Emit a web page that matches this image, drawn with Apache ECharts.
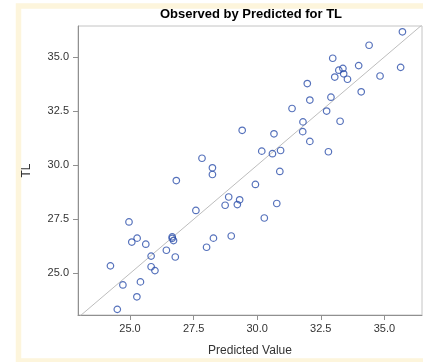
<!DOCTYPE html>
<html>
<head>
<meta charset="utf-8">
<script src="https://cdn.jsdelivr.net/npm/echarts@6/dist/echarts.min.js"></script>
<style>
html,body{margin:0;padding:0;background:#fff;}
#c{width:423px;height:362px;}
</style>
</head>
<body>
<div id="c"></div>
<script>
const titleText = 'Observed by Predicted for TL';
const xName = 'Predicted Value';
const yName = 'TL';
const xTicks = [25.0, 27.5, 30.0, 32.5, 35.0];
const yTicks = [25.0, 27.5, 30.0, 32.5, 35.0];
const predicted = [35.71,34.40,32.97,33.99,35.64,33.21,33.37,33.40,33.05,33.55,34.83,31.97,34.09,32.07,32.90,31.37,32.73,31.80,33.26,31.79,32.07,32.80,29.41,30.66,30.18,30.60,30.92,27.83,28.24,28.24,26.82,30.89,29.93,28.88,29.31,28.74,29.22,30.77,27.59,30.28,24.96,25.28,25.07,25.62,26.66,26.66,26.71,28.28,28.98,28.01,26.43,25.83,26.78,24.23,25.83,25.98,25.41,24.72,25.27,24.50];
const observed = [36.16,35.54,34.94,34.60,34.52,34.39,34.47,34.22,34.07,33.97,34.12,33.77,33.39,33.01,33.14,32.62,32.50,32.00,32.03,31.55,31.10,30.62,31.61,31.45,30.65,30.53,30.68,30.32,29.88,29.57,29.29,29.71,29.11,28.53,28.40,28.15,28.18,28.23,27.91,27.56,27.38,26.63,26.45,26.35,26.69,26.62,26.52,26.63,26.73,26.21,26.07,25.80,25.76,25.35,25.31,25.13,24.61,24.47,23.92,23.34];
const xRange = [22.955, 36.48];
const yRange = [23.08, 36.43];
const refLine = [[22.0, 22.0], [37.0, 37.0]];

const chart = echarts.init(document.getElementById('c'), null, {renderer: 'canvas'});
const points = predicted.map((p, i) => [p, observed[i]]);
const font = 'Arial, "Liberation Sans", sans-serif';
chart.setOption({
  animation: false,
  backgroundColor: '#fff',
  graphic: [{
    type: 'rect',
    z: -10,
    shape: {x: 18.5, y: 6, width: 430, height: 355},
    style: {fill: 'none', stroke: '#fdf5dc', lineWidth: 5.5}
  }],
  title: {
    text: titleText,
    left: 160, top: 8, padding: 0,
    textStyle: {fontFamily: font, fontSize: 13, fontWeight: 'bold', color: '#000'}
  },
  grid: {left: 78, top: 26, right: 1, bottom: 39.3, show: true, borderColor: '#c4c4c4', borderWidth: 1, backgroundColor: 'transparent'},
  xAxis: {
    type: 'value', min: xRange[0], max: xRange[1],
    name: xName, nameLocation: 'middle', nameGap: 30,
    nameTextStyle: {fontFamily: font, fontSize: 12, color: '#333'},
    axisLine: {show: true, lineStyle: {color: '#909090'}},
    axisTick: {show: true, length: 5, lineStyle: {color: '#909090'}, customValues: xTicks},
    axisLabel: {fontFamily: font, fontSize: 11, color: '#333', margin: 8, customValues: xTicks, formatter: v => v.toFixed(1)},
    splitLine: {show: false}
  },
  yAxis: {
    type: 'value', min: yRange[0], max: yRange[1],
    name: yName, nameLocation: 'middle', nameGap: 45, nameRotate: 90,
    nameTextStyle: {fontFamily: font, fontSize: 12, color: '#333'},
    axisLine: {show: true, lineStyle: {color: '#909090'}},
    axisTick: {show: true, length: 5, lineStyle: {color: '#909090'}, customValues: yTicks},
    axisLabel: {fontFamily: font, fontSize: 11, color: '#333', margin: 9, customValues: yTicks, formatter: v => v.toFixed(1)},
    splitLine: {show: false}
  },
  series: [{
    type: 'line',
    data: refLine,
    symbol: 'none',
    clip: true,
    lineStyle: {color: '#bdbdbd', width: 1},
    silent: true,
    z: 1
  }, {
    type: 'scatter',
    data: points,
    symbol: 'circle',
    symbolSize: 6.5,
    itemStyle: {color: 'rgba(255,255,255,0)', borderColor: '#2a4eaa', borderWidth: 1.2},
    z: 2
  }]
});
</script>
</body>
</html>
